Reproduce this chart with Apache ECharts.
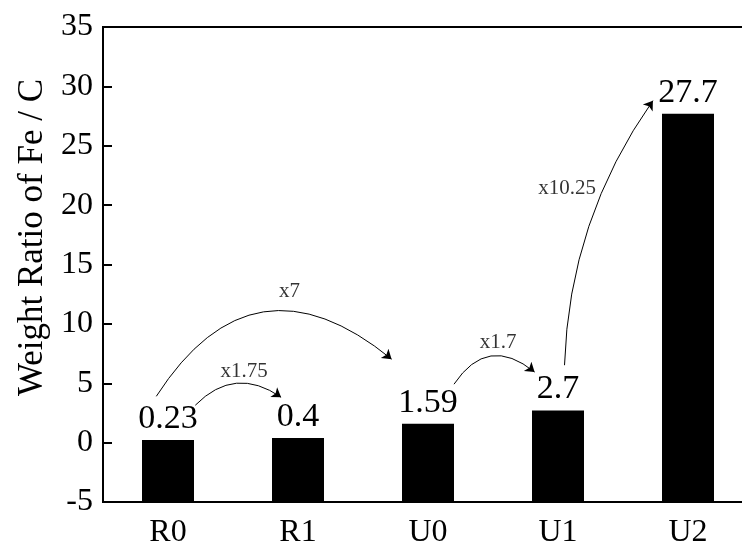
<!DOCTYPE html>
<html>
<head>
<meta charset="utf-8">
<style>
  html, body { margin: 0; padding: 0; background: #fff; }
  #chart { width: 742px; height: 545px; }
</style>
<script src="https://cdn.jsdelivr.net/npm/echarts@6/dist/echarts.min.js"></script>
</head>
<body>
<div id="chart"></div>
<script>
// Fe / C weight ratio per sample
const categories = ['R0', 'R1', 'U0', 'U1', 'U2'];
const ratios = [0.23, 0.4, 1.59, 2.7, 27.7];

// Value-axis range
const yMin = -5;
const yMax = 35;
const yStep = 5;

// Growth arrows: start/end in (category position, ratio) units, with bend
const arrowStarts = [[0.21, 3.15], [-0.09, 3.9], [2.2, 4.92], [3.05, 6.52]];
const arrowEnds = [[0.87, 3.82], [1.72, 7.03], [2.82, 5.94], [3.73, 28.8]];
const arrowBends = [0.42, 0.56, 0.55, 0.15];

// Growth factor labels and where they sit
const factorTexts = ['x1.75', 'x7', 'x1.7', 'x10.25'];
const factorPos = [[0.585, 6.0], [0.934, 12.7], [2.54, 8.45], [3.07, 21.4]];

const FONT = '"Liberation Serif", "Times New Roman", serif';
const BAR_RATIO = 0.4;

const chart = echarts.init(document.getElementById('chart'), null, { renderer: 'canvas' });

// Solid bars rising from the bottom of the value axis, value printed on top
function renderBar(params, api) {
  const idx = api.value(0);
  const val = api.value(1);
  const top = api.coord([idx, val]);
  const base = api.coord([idx, yMin]);
  const w = api.size([1, 0])[0] * BAR_RATIO;
  return {
    type: 'rect',
    shape: { x: top[0] - w / 2, y: top[1], width: w, height: base[1] - top[1] },
    style: { fill: '#000' },
    textContent: {
      style: {
        text: String(ratios[params.dataIndex]),
        fill: '#000',
        fontFamily: FONT,
        fontSize: 34
      }
    },
    textConfig: { position: 'top', distance: 4 }
  };
}

chart.setOption({
  animation: false,
  backgroundColor: '#fff',
  grid: {
    left: 103, top: 27, bottom: 43, width: 650,
    outerBoundsMode: 'none',
    containLabel: false,
    show: true, borderColor: '#000', borderWidth: 2, backgroundColor: 'transparent'
  },
  xAxis: [
    {
      type: 'category',
      data: categories,
      boundaryGap: true,
      axisLine: { onZero: false, lineStyle: { color: '#000', width: 2 } },
      axisTick: { show: false },
      axisLabel: { color: '#000', fontFamily: FONT, fontSize: 32, margin: 15 },
      splitLine: { show: false }
    },
    {
      // continuous twin of the category axis, used for annotations
      type: 'value',
      min: -0.5,
      max: categories.length - 0.5,
      show: false
    }
  ],
  yAxis: {
    type: 'value',
    min: yMin,
    max: yMax,
    interval: yStep,
    name: 'Weight Ratio of Fe / C',
    nameLocation: 'middle',
    nameGap: 50,
    nameTextStyle: { color: '#000', fontFamily: FONT, fontSize: 35, padding: [0, 0, 0, 54] },
    axisLine: { show: true, onZero: false, lineStyle: { color: '#000', width: 2 } },
    axisTick: { show: true, inside: true, length: 9, lineStyle: { color: '#000', width: 2 } },
    axisLabel: { color: '#000', fontFamily: FONT, fontSize: 32, margin: 10 },
    splitLine: { show: false }
  },
  series: [
    {
      name: 'Fe/C',
      type: 'custom',
      xAxisIndex: 0,
      yAxisIndex: 0,
      renderItem: renderBar,
      encode: { x: 0, y: 1 },
      data: ratios.map((v, i) => [i, v])
    },
    {
      type: 'lines',
      coordinateSystem: 'cartesian2d',
      xAxisIndex: 1,
      yAxisIndex: 0,
      symbol: ['none', 'arrow'],
      symbolSize: 9,
      lineStyle: { color: '#000', width: 1, opacity: 1 },
      data: arrowStarts.map((s, i) => ({
        coords: [s, arrowEnds[i]],
        lineStyle: { curveness: arrowBends[i] }
      })),
      silent: true
    },
    {
      type: 'scatter',
      xAxisIndex: 1,
      yAxisIndex: 0,
      symbolSize: 0,
      data: factorPos.map((p, i) => ({ value: p, name: factorTexts[i] })),
      label: {
        show: true,
        position: 'inside',
        color: '#000',
        fontFamily: FONT,
        fontSize: 21,
        formatter: p => p.name
      },
      silent: true
    }
  ]
});
</script>
</body>
</html>
